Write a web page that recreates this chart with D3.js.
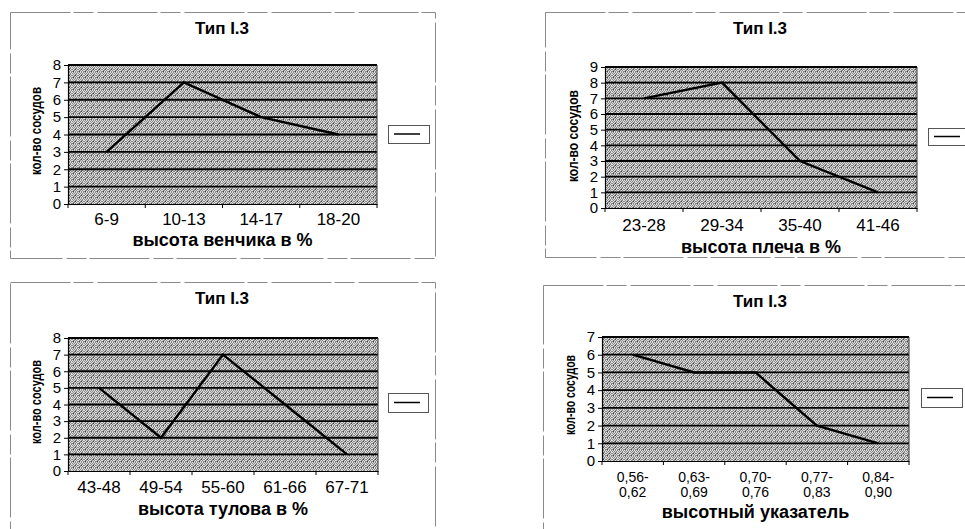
<!DOCTYPE html>
<html><head><meta charset="utf-8">
<script src="https://cdn.jsdelivr.net/npm/d3@7"></script>
<style>
html,body{margin:0;padding:0;background:#fff;}
svg{display:block;font-family:"Liberation Sans",Arial,sans-serif;}
</style></head>
<body>
<svg id="c" width="965" height="529"></svg>
<script>
// ---- data ----
const titleText = "Тип I.3";
const yLabelText = "кол-во сосудов";

const cats1 = ["6-9", "10-13", "14-17", "18-20"];
const vals1 = [3, 7, 5, 4];
const yMax1 = 8;
const xTitle1 = "высота венчика в %";

const cats2 = ["23-28", "29-34", "35-40", "41-46"];
const vals2 = [7, 8, 3, 1];
const yMax2 = 9;
const xTitle2 = "высота плеча в %";

const cats3 = ["43-48", "49-54", "55-60", "61-66", "67-71"];
const vals3 = [5, 2, 7, 4, 1];
const yMax3 = 8;
const xTitle3 = "высота тулова в %";

const cats4 = ["0,56-|0,62", "0,63-|0,69", "0,70-|0,76", "0,77-|0,83", "0,84-|0,90"];
const vals4 = [6, 5, 5, 2, 1];
const yMax4 = 7;
const xTitle4 = "высотный указатель";

// ---- layout ----
const panels = [
  {cats: cats1, vals: vals1, yMax: yMax1, xTitle: xTitle1, tickFs: 17,
   frame: [10, 12, 435, 258], plot: [68, 65, 377, 204], titleY: 30, titleX: 222,
   tickY: 221, xTitleY: 241, yLab: [37, 131, 88], legend: [388, 125, 429, 143]},
  {cats: cats2, vals: vals2, yMax: yMax2, xTitle: xTitle2, tickFs: 17,
   frame: [545, 12, 970, 257], plot: [605, 67, 917, 208], titleY: 30, titleX: 760,
   tickY: 227, xTitleY: 248, yLab: [574, 136, 92], legend: [928, 128, 972, 145]},
  {cats: cats3, vals: vals3, yMax: yMax3, xTitle: xTitle3, tickFs: 17,
   frame: [10, 282, 435, 540], plot: [68, 338, 378, 471], titleY: 300, titleX: 222,
   tickY: 489, xTitleY: 510, yLab: [37, 402, 84], legend: [388, 393, 428, 412]},
  {cats: cats4, vals: vals4, yMax: yMax4, xTitle: xTitle4, tickFs: 14,
   frame: [543, 285, 970, 540], plot: [602, 337, 909, 461], titleY: 303, titleX: 760,
   tickY: 478, xTitleY: 513, yLab: [571, 395, 80], legend: [921, 388, 962, 407]}
];

const svg = d3.select("#c");
const defs = svg.append("defs");
// halftone texture
const pat = defs.append("pattern").attr("id", "tex").attr("patternUnits", "userSpaceOnUse")
  .attr("width", 6).attr("height", 6);
pat.append("rect").attr("width", 6).attr("height", 6).attr("fill", "#8a8a8a");
[[0,0],[2,0],[4,0],[1,1],[3,1],[0,2],[2,2],[5,2],[1,3],[4,3],[0,4],[3,4],[5,4],[2,5],[4,5],[5,1]].forEach(([x,y]) =>
  pat.append("rect").attr("x", x).attr("y", y).attr("width", 1).attr("height", 1).attr("fill", "#dcdcdc"));
[[3,3],[1,5]].forEach(([x,y]) =>
  pat.append("rect").attr("x", x).attr("y", y).attr("width", 1).attr("height", 1).attr("fill", "#444"));

panels.forEach(p => {
  const g = svg.append("g");
  const [fx0, fy0, fx1, fy1] = p.frame;
  g.append("rect").attr("x", fx0 + 0.5).attr("y", fy0 + 0.5)
    .attr("width", fx1 - fx0).attr("height", fy1 - fy0)
    .attr("fill", "none").attr("stroke", "#8a8a8a").attr("stroke-width", 1)
    .attr("stroke-dasharray", "60,3,20,4");

  g.append("text").attr("x", p.titleX).attr("y", p.titleY).attr("text-anchor", "middle")
    .attr("dominant-baseline", "middle").attr("font-weight", "bold").attr("font-size", 17)
    .text(titleText);

  const [px0, py0, px1, py1] = p.plot;
  const x = d3.scaleBand().domain(p.cats).range([px0, px1]);
  const y = d3.scaleLinear().domain([0, p.yMax]).range([py1, py0]);

  g.append("rect").attr("x", px0).attr("y", py0).attr("width", px1 - px0).attr("height", py1 - py0)
    .attr("fill", "url(#tex)");

  // gridlines
  g.append("g").selectAll("line").data(d3.range(1, p.yMax + 1)).join("line")
    .attr("x1", px0).attr("x2", px1).attr("y1", d => y(d)).attr("y2", d => y(d))
    .attr("stroke", "#000").attr("stroke-width", 1.8);
  // right border of plot
  g.append("line").attr("x1", px1).attr("x2", px1).attr("y1", py0).attr("y2", py1)
    .attr("stroke", "#333").attr("stroke-width", 1);

  // y axis
  const ya = g.append("g").attr("transform", `translate(${px0},0)`)
    .call(d3.axisLeft(y).ticks(p.yMax).tickSize(4).tickPadding(3));
  ya.select(".domain").attr("stroke-width", 1.2);
  ya.selectAll("text").attr("font-size", 15).attr("font-family", "Liberation Sans, Arial, sans-serif");

  // x axis
  const xa = g.append("g").attr("transform", `translate(0,${py1})`)
    .call(d3.axisBottom(x).tickSize(0).tickFormat(""));
  xa.select(".domain").attr("stroke-width", 1.2);
  const bounds = p.cats.map(c => x(c)).concat([px1]);
  g.append("g").selectAll("line").data(bounds).join("line")
    .attr("x1", d => d).attr("x2", d => d).attr("y1", py1).attr("y2", py1 + 4)
    .attr("stroke", "#000").attr("stroke-width", 1);

  const labs = g.append("g").selectAll("text").data(p.cats).join("text")
    .attr("x", d => x(d) + x.bandwidth() / 2).attr("y", p.tickY)
    .attr("text-anchor", "middle").attr("dominant-baseline", "middle").attr("font-size", p.tickFs);
  labs.each(function(d) {
    const parts = d.split("|");
    const t = d3.select(this);
    parts.forEach((s, i) => t.append("tspan").attr("x", x(d) + x.bandwidth() / 2)
      .attr("dy", i === 0 ? 0 : 15).text(s));
  });

  g.append("text").attr("x", (px0 + px1) / 2).attr("y", p.xTitleY).attr("text-anchor", "middle")
    .attr("dominant-baseline", "middle").attr("font-weight", "bold").attr("font-size", 18)
    .text(p.xTitle);

  // y label
  const [lx, ly, ll] = p.yLab;
  g.append("text").attr("transform", `translate(${lx},${ly}) rotate(-90)`)
    .attr("text-anchor", "middle").attr("dominant-baseline", "middle")
    .attr("font-weight", "bold").attr("font-size", 15)
    .attr("textLength", ll).attr("lengthAdjust", "spacingAndGlyphs")
    .text(yLabelText);

  // series line
  const line = d3.line().x((d, i) => x(p.cats[i]) + x.bandwidth() / 2).y(d => y(d));
  g.append("path").attr("d", line(p.vals)).attr("fill", "none")
    .attr("stroke", "#000").attr("stroke-width", 2.4).attr("stroke-linejoin", "miter");

  // legend
  const [lx0, ly0, lx1, ly1] = p.legend;
  g.append("rect").attr("x", lx0 + 0.5).attr("y", ly0 + 0.5).attr("width", lx1 - lx0).attr("height", ly1 - ly0)
    .attr("fill", "#fff").attr("stroke", "#555").attr("stroke-width", 1);
  const lm = (ly0 + ly1) / 2;
  g.append("line").attr("x1", lx0 + 6).attr("x2", lx0 + 32).attr("y1", lm).attr("y2", lm)
    .attr("stroke", "#000").attr("stroke-width", 1.5);
});
</script>
</body></html>
